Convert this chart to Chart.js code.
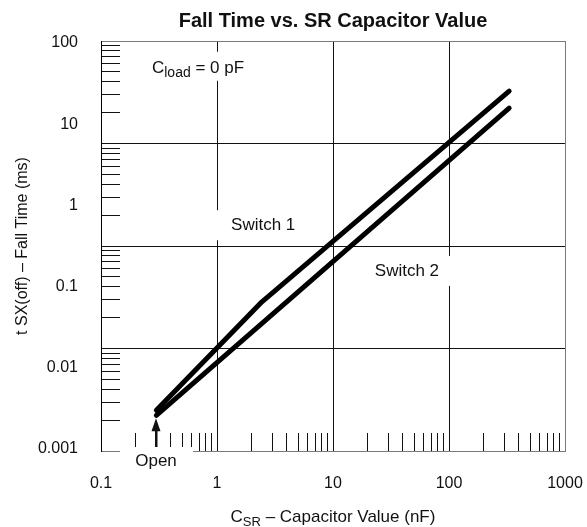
<!DOCTYPE html>
<html>
<head>
<meta charset="utf-8">
<script src="https://cdn.jsdelivr.net/npm/chart.js@4.4.1/dist/chart.umd.min.js"></script>
<style>
  html, body { margin: 0; padding: 0; background: #fff; }
  #wrap { width: 587px; height: 527px; }
</style>
</head>
<body>
<div id="wrap"><canvas id="fallChart" width="587" height="527"></canvas></div>
<script>
// values (x in nF, y in ms)
const switch1Cap = [0.3, 2.44, 330];
const switch1Fall = [0.0030, 0.065, 25.6];
const switch2Cap = [0.3, 330];
const switch2Fall = [0.0026, 15.8];

const xTickValues = [0.1, 1, 10, 100, 1000];
const xTickLabels = ['0.1', '1', '10', '100', '1000'];
const yTickValues = [0.001, 0.01, 0.1, 1, 10, 100];
const yTickLabels = ['0.001', '0.01', '0.1', '1', '10', '100'];
// the printed grid only has 4 decades and does not line up with the labels
const gridDecades = [1, 10, 100, 1000, 10000];
const openCap = 0.3;

const FONT = "'Liberation Sans', Arial, Helvetica, sans-serif";
const INK = '#111';
const FRAME = '#7a7a7a';
const NONE = 'rgba(0,0,0,0)';

function sameValue(a, b) { return Math.abs(a - b) / b < 1e-6; }
function inList(v, list) { return list.some(d => sameValue(v, d)); }

// 2..9 marks inside every decade, minus the ones listed in skip
function minorTicks(decades, skip) {
    const out = [];
    for (let i = 0; i < decades.length - 1; i++) {
        for (let k = 2; k <= 9; k++) {
            const v = decades[i] * k;
            if (!skip || !inList(v, skip)) out.push(v);
        }
    }
    return out;
}

function toPoints(xs, ys) { return xs.map((x, i) => ({ x: x, y: ys[i] })); }

function innerDecade(v, decades) {
    return inList(v, decades) && !sameValue(v, decades[0]) && !sameValue(v, decades[decades.length - 1]);
}

// texts that sit on white patches over the grid, like the printed sheet
const notes = {
    load: { x: 0.275, y: 43 },
    switch1: { x: 2.5, y: 0.57 },
    switch2: { x: 43.4, y: 0.156 }
};

function whiteBox(ctx, x, y, w, h) {
    ctx.fillStyle = '#fff';
    ctx.fillRect(x, y, w, h);
}

const datasheetNotes = {
    id: 'datasheetNotes',
    afterDraw(chart) {
        const ctx = chart.ctx;
        const sx = chart.scales.x, sy = chart.scales.y;
        const area = chart.chartArea;
        ctx.save();
        ctx.textBaseline = 'alphabetic';

        // C_load = 0 pF
        let px = sx.getPixelForValue(notes.load.x);
        let py = sy.getPixelForValue(notes.load.y);
        whiteBox(ctx, px - 7, py - 21, 113, 29);
        ctx.fillStyle = INK;
        ctx.textAlign = 'left';
        ctx.font = '17px ' + FONT;
        ctx.fillText('C', px, py);
        let w = ctx.measureText('C').width;
        ctx.font = '14px ' + FONT;
        ctx.fillText('load', px + w, py + 4);
        w += ctx.measureText('load').width;
        ctx.font = '17px ' + FONT;
        ctx.fillText(' = 0 pF', px + w, py);

        // Switch labels
        ctx.textAlign = 'center';
        ctx.textBaseline = 'middle';
        ctx.font = '17px ' + FONT;
        for (const key of ['switch1', 'switch2']) {
            const txt = key === 'switch1' ? 'Switch 1' : 'Switch 2';
            const cx = sx.getPixelForValue(notes[key].x);
            const cy = sy.getPixelForValue(notes[key].y);
            const tw = ctx.measureText(txt).width;
            whiteBox(ctx, cx - tw / 2 - 16, cy - 15, tw + 32, 30);
            ctx.fillStyle = INK;
            ctx.fillText(txt, cx, cy);
        }

        // "Open" marker with its arrow
        const ax = Math.round(sx.getPixelForValue(openCap));
        const tip = sy.getPixelForValue(switch2Fall[0]) + 3;
        whiteBox(ctx, ax - 36, area.bottom - 4, 73, 28);
        ctx.fillStyle = INK;
        ctx.fillText('Open', ax, area.bottom + 10);
        ctx.beginPath();
        ctx.moveTo(ax, tip);
        ctx.lineTo(ax - 4.5, tip + 13);
        ctx.lineTo(ax + 4.5, tip + 13);
        ctx.closePath();
        ctx.fill();
        ctx.fillRect(ax - 1, tip + 10, 2.5, area.bottom - 4 - tip - 10);

        // x axis title with subscript
        ctx.textBaseline = 'alphabetic';
        ctx.textAlign = 'left';
        const rest = ' \u2013 Capacitor Value (nF)';
        ctx.font = '17px ' + FONT;
        const wC = ctx.measureText('C').width;
        const wRest = ctx.measureText(rest).width;
        ctx.font = '13px ' + FONT;
        const wSR = ctx.measureText('SR').width;
        let tx = (area.left + area.right) / 2 - (wC + wSR + wRest) / 2;
        const base = 522;
        ctx.font = '17px ' + FONT;
        ctx.fillText('C', tx, base);
        ctx.font = '13px ' + FONT;
        ctx.fillText('SR', tx + wC, base + 4);
        ctx.font = '17px ' + FONT;
        ctx.fillText(rest, tx + wC + wSR, base);
        ctx.restore();
    }
};

const lineStyle = {
    borderColor: '#000',
    borderWidth: 5,
    borderCapStyle: 'round',
    borderJoinStyle: 'round',
    pointRadius: 0,
    tension: 0,
    fill: false,
    xAxisID: 'x',
    yAxisID: 'y'
};

new Chart(document.getElementById('fallChart'), {
    type: 'line',
    data: {
        datasets: [
            Object.assign({ label: 'Switch 1', data: toPoints(switch1Cap, switch1Fall) }, lineStyle),
            Object.assign({ label: 'Switch 2', data: toPoints(switch2Cap, switch2Fall) }, lineStyle)
        ]
    },
    options: {
        responsive: false,
        animation: false,
        devicePixelRatio: 1,
        layout: { padding: 0 },
        plugins: {
            legend: { display: false },
            tooltip: { enabled: false },
            title: {
                display: true,
                fullSize: false,
                text: 'Fall Time vs. SR Capacitor Value',
                color: INK,
                font: { family: FONT, size: 20, weight: 'bold' },
                padding: { top: 9, bottom: 8 }
            }
        },
        scales: {
            x: {
                type: 'logarithmic',
                position: 'bottom',
                min: 0.1,
                max: 1000,
                afterBuildTicks: s => {
                    s.ticks = xTickValues.concat(minorTicks(xTickValues, [openCap]))
                        .sort((a, b) => a - b).map(v => ({ value: v }));
                },
                afterFit: s => {
                    s.height = 76;
                    // the big label padding must not eat into the plot width
                    s.paddingLeft = 0;
                    s.paddingRight = 0;
                },
                border: { color: FRAME, width: 1 },
                grid: {
                    color: c => innerDecade(c.tick.value, xTickValues) ? INK : NONE,
                    tickColor: c => inList(c.tick.value, xTickValues) ? NONE : INK,
                    tickLength: -18,
                    lineWidth: 1
                },
                ticks: {
                    autoSkip: false,
                    maxRotation: 0,
                    padding: 41,
                    color: INK,
                    font: { family: FONT, size: 16 },
                    callback: v => {
                        const i = xTickValues.findIndex(d => sameValue(v, d));
                        return i < 0 ? '' : xTickLabels[i];
                    }
                }
            },
            xTop: {
                type: 'logarithmic',
                position: 'top',
                min: 0.1,
                max: 1000,
                afterFit: s => { s.height = 0; s.paddingLeft = 0; s.paddingRight = 0; },
                border: { color: FRAME, width: 1 },
                grid: { display: false },
                ticks: { display: false }
            },
            y: {
                type: 'logarithmic',
                position: 'left',
                weight: 1,
                min: 0.000945,
                max: 105.8,
                afterBuildTicks: s => { s.ticks = yTickValues.map(v => ({ value: v })); },
                afterFit: s => { s.width = 101; },
                border: { color: '#000', width: 1 },
                grid: { display: false },
                ticks: {
                    autoSkip: false,
                    padding: 15,
                    color: INK,
                    font: { family: FONT, size: 16 },
                    callback: v => {
                        const i = yTickValues.findIndex(d => sameValue(v, d));
                        return i < 0 ? '' : yTickLabels[i];
                    }
                },
                title: {
                    display: true,
                    text: 't SX(off) \u2013 Fall Time (ms)',
                    color: INK,
                    font: { family: FONT, size: 16 },
                    padding: { top: 13, bottom: 0 }
                }
            },
            yGrid: {
                type: 'logarithmic',
                position: 'left',
                weight: 0,
                min: gridDecades[0],
                max: gridDecades[gridDecades.length - 1],
                afterBuildTicks: s => {
                    s.ticks = gridDecades.concat(minorTicks(gridDecades))
                        .sort((a, b) => a - b).map(v => ({ value: v }));
                },
                afterFit: s => { s.width = 0; },
                border: { display: false },
                grid: {
                    color: c => innerDecade(c.tick.value, gridDecades) ? INK : NONE,
                    tickColor: c => inList(c.tick.value, gridDecades) ? NONE : INK,
                    tickLength: -19,
                    lineWidth: 1
                },
                ticks: { display: false }
            },
            yRight: {
                type: 'linear',
                position: 'right',
                min: 0,
                max: 1,
                afterFit: s => { s.width = 22; },
                border: { color: FRAME, width: 1 },
                grid: { display: false },
                ticks: { display: false }
            }
        }
    },
    plugins: [datasheetNotes]
});
</script>
</body>
</html>
